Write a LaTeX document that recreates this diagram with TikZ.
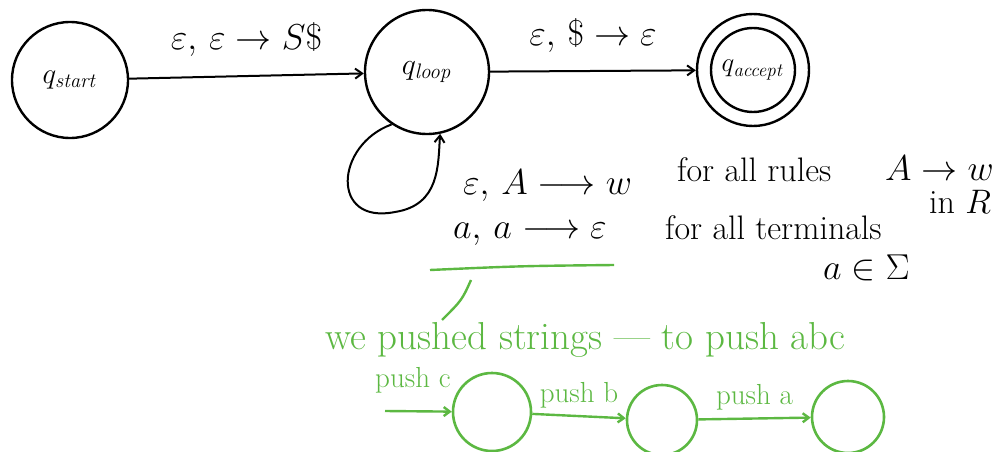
\RequirePackage{fix-cm}
\documentclass[tikz,border=0pt]{standalone}
\usetikzlibrary{arrows.meta}
\definecolor{hgreen}{RGB}{92,184,66}
\tikzset{
  state/.style={circle,draw,line width=2.4pt,inner sep=0pt},
  edge/.style={line width=2pt,-{Straight Barb[length=7pt,width=10pt]}},
  lbl/.style={font=\fontsize{36}{40}\selectfont,inner sep=1pt},
  note/.style={font=\fontsize{34}{38}\selectfont,inner sep=1pt},
  gstate/.style={circle,draw=hgreen,line width=2.6pt,inner sep=0pt},
  gedge/.style={hgreen,line width=2.4pt,-{Straight Barb[length=6pt,width=9pt]}},
  gnote/.style={text=hgreen,font=\fontsize{39}{44}\selectfont,inner sep=1pt},
  gsmall/.style={text=hgreen,font=\fontsize{29}{33}\selectfont,inner sep=1pt},
}
\begin{document}
\begin{tikzpicture}[x=1pt,y=-1pt]
\useasboundingbox (0,0) rectangle (1006,452);
% states
\node[state,minimum size=116pt] (qs) at (70,80) {\fontsize{29}{32}\selectfont$q_{\mathit{start}}$};
\node[state,minimum size=124pt] (ql) at (427,72) {\fontsize{30}{34}\selectfont$q_{\mathit{loop}}$};
\node[state,minimum size=112pt] (qa) at (753,70) {};
\node[state,minimum size=84pt] (qai) at (753,70) {\fontsize{27}{30}\selectfont$q_{\mathit{accept}}$};
% transitions
\draw[edge] (qs) -- node[lbl,above=18pt] {$\varepsilon,\,\varepsilon\rightarrow S\$$} (ql);
\draw[edge] (ql) -- node[lbl,above=16pt] {$\varepsilon,\,\$\rightarrow\varepsilon$} (qa);
\draw[edge] (ql.236) .. controls (335,145) and (330,225) .. (395,212)
  .. controls (440,205) and (438,165) .. (ql.282);
% loop labels
\node[lbl,anchor=west] (l1) at (462,186) {$\varepsilon,\,A\longrightarrow w$};
\node[lbl,anchor=west] (l2) at (452,234) {$a,\,a\longrightarrow\varepsilon$};
\node[note,anchor=west] (r1) at (676,170) {for all rules};
\node[lbl,anchor=west] (r2) at (884,168) {$A\rightarrow w$};
\node[note,anchor=west] (r3) at (928,202) {in $R$};
\node[note,anchor=west] (t1) at (664,228) {for all terminals};
\node[lbl,anchor=west] (t2) at (822,268) {$a\in\Sigma$};
% green annotation
\coordinate (u1) at (430,270);
\coordinate (u2) at (614,265);
\draw[hgreen,line width=2.4pt] (u1) .. controls (520,266) .. (u2);
\coordinate (p1) at (471,280);
\coordinate (p2) at (442,320);
\draw[hgreen,line width=2.4pt] (p1) .. controls (462,300) .. (p2);
\node[gnote,anchor=west] (g1) at (324,340) {we pushed strings --- to push abc};
\node[gsmall,anchor=west] (pc) at (374,380) {push c};
\node[gstate,minimum size=78pt] (c1) at (492,412) {};
\node[gstate,minimum size=70pt] (c2) at (662,420) {};
\node[gstate,minimum size=72pt] (c3) at (848,417) {};
\coordinate (s0) at (385,411);
\draw[gedge] (s0) -- (c1);
\draw[gedge] (c1) -- node[gsmall,above=6pt] {push b} (c2);
\draw[gedge] (c2) -- node[gsmall,above=6pt] {push a} (c3);
\end{tikzpicture}
\end{document}
